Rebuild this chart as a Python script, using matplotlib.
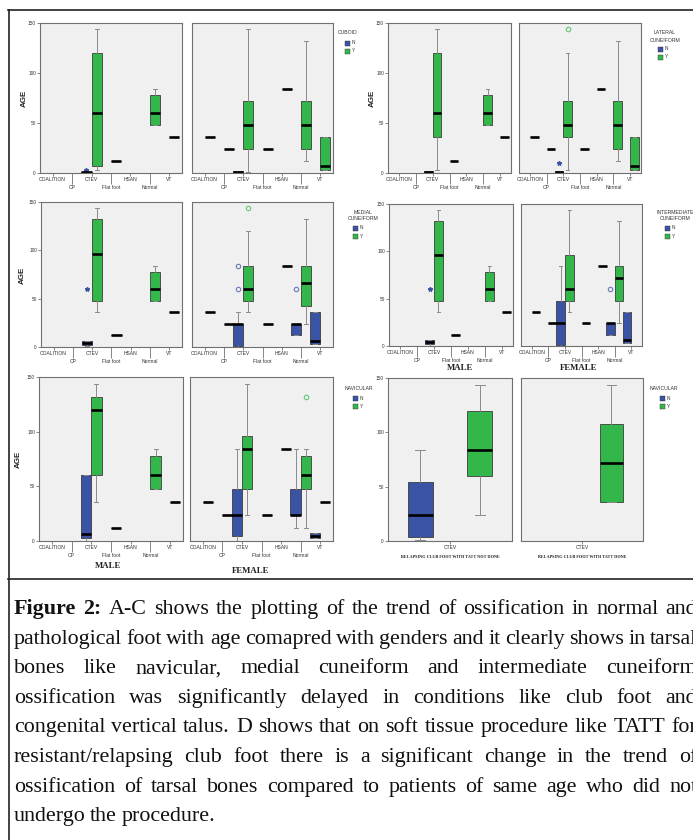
import matplotlib
matplotlib.use("Agg")
import matplotlib.pyplot as plt
from matplotlib.patches import Rectangle
from matplotlib.lines import Line2D

# ---------------- data ----------------
CATEGORIES = ["COALITION", "CP", "CTEV", "Flat foot", "HSAN", "Normal", "VT"]
TATT_CATEGORIES = ["CTEV"]
Y_TICKS = [0, 50, 100, 150]

# (category, group, whisker low, q1, median, q3, whisker high)
CUBOID_MALE = [
    ("CTEV", "N", 0, 0, 1, 1.5, 1.5),
    ("CTEV", "Y", 3, 7, 60, 120, 144),
    ("Flat foot", "Y", 12, 12, 12, 12, 12),
    ("Normal", "Y", 48, 48, 60, 78, 84),
    ("VT", "Y", 36, 36, 36, 36, 36),
]
CUBOID_MALE_OUT = [("CTEV", "N", 3.5, "*")]

CUBOID_FEMALE = [
    ("COALITION", "Y", 36, 36, 36, 36, 36),
    ("CP", "Y", 24, 24, 24, 24, 24),
    ("CTEV", "N", 0, 0, 1, 2.5, 2.5),
    ("CTEV", "Y", 1, 24, 48, 72, 144),
    ("Flat foot", "Y", 24, 24, 24, 24, 24),
    ("HSAN", "Y", 84, 84, 84, 84, 84),
    ("Normal", "Y", 12, 24, 48, 72, 132),
    ("VT", "Y", 3, 3, 7, 36, 36),
]
CUBOID_FEMALE_OUT = []

LATERAL_MALE = [
    ("CTEV", "N", 0, 0, 1, 2, 2),
    ("CTEV", "Y", 3, 36, 60, 120, 144),
    ("Flat foot", "Y", 12, 12, 12, 12, 12),
    ("Normal", "Y", 48, 48, 60, 78, 84),
    ("VT", "Y", 36, 36, 36, 36, 36),
]
LATERAL_MALE_OUT = []

LATERAL_FEMALE = [
    ("COALITION", "Y", 36, 36, 36, 36, 36),
    ("CP", "Y", 24, 24, 24, 24, 24),
    ("CTEV", "N", 0, 0, 1, 2, 2),
    ("CTEV", "Y", 3, 36, 48, 72, 120),
    ("Flat foot", "Y", 24, 24, 24, 24, 24),
    ("HSAN", "Y", 84, 84, 84, 84, 84),
    ("Normal", "Y", 12, 24, 48, 72, 132),
    ("VT", "Y", 3, 3, 7, 36, 36),
]
LATERAL_FEMALE_OUT = [("CTEV", "N", 10, "*"), ("CTEV", "Y", 144, "o")]

MEDIAL_MALE = [
    ("CTEV", "N", 1, 2, 4, 6, 6),
    ("CTEV", "Y", 36, 48, 96, 132, 144),
    ("Flat foot", "Y", 12, 12, 12, 12, 12),
    ("Normal", "Y", 48, 48, 60, 78, 84),
    ("VT", "Y", 36, 36, 36, 36, 36),
]
MEDIAL_MALE_OUT = [("CTEV", "N", 60, "*")]

MEDIAL_FEMALE = [
    ("COALITION", "Y", 36, 36, 36, 36, 36),
    ("CP", "Y", 24, 24, 24, 24, 24),
    ("CTEV", "N", 0, 1, 24, 24, 36),
    ("CTEV", "Y", 36, 48, 60, 84, 120),
    ("Flat foot", "Y", 24, 24, 24, 24, 24),
    ("HSAN", "Y", 84, 84, 84, 84, 84),
    ("Normal", "N", 12, 12, 24, 24, 24),
    ("Normal", "Y", 24, 42, 66, 84, 132),
    ("VT", "N", 3, 3, 6, 36, 36),
]
MEDIAL_FEMALE_OUT = [("CTEV", "N", 60, "o"), ("CTEV", "N", 84, "o"),
                     ("CTEV", "Y", 144, "o"), ("Normal", "N", 60, "o")]

INTERMEDIATE_MALE = [
    ("CTEV", "N", 0, 2, 4, 6, 6),
    ("CTEV", "Y", 36, 48, 96, 132, 144),
    ("Flat foot", "Y", 12, 12, 12, 12, 12),
    ("Normal", "Y", 48, 48, 60, 78, 84),
    ("VT", "Y", 36, 36, 36, 36, 36),
]
INTERMEDIATE_MALE_OUT = [("CTEV", "N", 60, "*")]

INTERMEDIATE_FEMALE = [
    ("COALITION", "Y", 36, 36, 36, 36, 36),
    ("CP", "Y", 24, 24, 24, 24, 24),
    ("CTEV", "N", 0, 1, 24, 48, 84),
    ("CTEV", "Y", 36, 48, 60, 96, 144),
    ("Flat foot", "Y", 24, 24, 24, 24, 24),
    ("HSAN", "Y", 84, 84, 84, 84, 84),
    ("Normal", "N", 12, 12, 24, 24, 24),
    ("Normal", "Y", 24, 48, 72, 84, 132),
    ("VT", "N", 3, 3, 6, 36, 36),
]
INTERMEDIATE_FEMALE_OUT = [("Normal", "N", 60, "o")]

NAVICULAR_MALE = [
    ("CTEV", "N", 0, 3, 6, 60, 60),
    ("CTEV", "Y", 36, 60, 120, 132, 144),
    ("Flat foot", "Y", 12, 12, 12, 12, 12),
    ("Normal", "Y", 48, 48, 60, 78, 84),
    ("VT", "Y", 36, 36, 36, 36, 36),
]
NAVICULAR_MALE_OUT = []

NAVICULAR_FEMALE = [
    ("COALITION", "Y", 36, 36, 36, 36, 36),
    ("CP", "Y", 24, 24, 24, 24, 24),
    ("CTEV", "N", 0, 5, 24, 48, 84),
    ("CTEV", "Y", 24, 48, 84, 96, 144),
    ("Flat foot", "Y", 24, 24, 24, 24, 24),
    ("HSAN", "Y", 84, 84, 84, 84, 84),
    ("Normal", "N", 12, 24, 24, 48, 84),
    ("Normal", "Y", 12, 48, 60, 78, 84),
    ("VT", "N", 3, 3, 5, 7, 7),
    ("VT", "Y", 36, 36, 36, 36, 36),
]
NAVICULAR_FEMALE_OUT = [("Normal", "Y", 132, "o")]

TATT_NOT_DONE = [
    ("CTEV", "N", 1, 4, 24, 54, 84),
    ("CTEV", "Y", 24, 60, 84, 120, 144),
]
TATT_DONE = [
    ("CTEV", "Y", 36, 36, 72, 108, 144),
]

LEGEND_N_Y = ["N", "Y"]
CAPTION_LINES = [
    "Figure 2: A-C shows the plotting of the trend of ossification in normal and",
    "pathological foot with age comapred with genders and it clearly shows in tarsal",
    "bones like navicular, medial cuneiform and intermediate cuneiform",
    "ossification was significantly delayed in conditions like club foot and",
    "congenital vertical talus. D shows that on soft tissue procedure like TATT for",
    "resistant/relapsing club foot there is a significant change in the trend of",
    "ossification of tarsal bones compared to patients of same age who did not",
    "undergo the procedure.",
]

# ---------------- style ----------------
W, H = 693, 840
COLORS = {"N": "#3b53a5", "Y": "#33b64a"}
PANEL_BG = "#f0f0f0"
SANS = ["Liberation Sans", "DejaVu Sans"]
SERIF = ["Liberation Serif", "DejaVu Serif"]

fig = plt.figure(figsize=(W / 100, H / 100), dpi=100)
fig.patch.set_facecolor("white")


def fx(x):
    return x / W


def fy(y):
    return 1 - y / H


def make_axes(rect):
    l, t, r, b = rect
    return fig.add_axes([l / W, 1 - b / H, (r - l) / W, (b - t) / H])


def draw_panel(ax, boxes, outliers, cats, offset, width, show_y):
    ax.set_facecolor(PANEL_BG)
    for s in ax.spines.values():
        s.set_color("#707070")
        s.set_linewidth(0.8)
    idx = {c: i for i, c in enumerate(cats)}
    for grp, sign in (("N", -1), ("Y", 1)):
        sel = [b for b in boxes if b[1] == grp]
        if not sel:
            continue
        stats = [dict(whislo=b[2], q1=b[3], med=b[4], q3=b[5], whishi=b[6], fliers=[])
                 for b in sel]
        pos = [idx[b[0]] + sign * offset for b in sel]
        ax.bxp(stats, positions=pos, widths=width, capwidths=width * 0.4,
               patch_artist=True, showfliers=False, manage_ticks=False,
               boxprops=dict(facecolor=COLORS[grp], edgecolor="#3c3c3c", linewidth=0.6),
               medianprops=dict(color="black", linewidth=1.9, solid_capstyle="butt"),
               whiskerprops=dict(color="#8a8a8a", linewidth=0.7),
               capprops=dict(color="#8a8a8a", linewidth=0.7))
    for cat, grp, val, mk in outliers:
        x = idx[cat] + (-offset if grp == "N" else offset)
        if mk == "o":
            ax.plot([x], [val], marker="o", ms=3.2, mfc="none", mec=COLORS[grp],
                    mew=0.8, ls="none", alpha=0.75)
        else:
            ax.plot([x], [val], marker="*", ms=3.2, color=COLORS[grp], ls="none")
    n = len(cats)
    ax.set_ylim(0, 150)
    if n > 1:
        ax.set_xlim(-0.65, n - 1 + 0.65)
        ax.set_xticks(list(range(0, n, 2)), cats[0::2])
        ax.set_xticks(list(range(1, n, 2)), cats[1::2], minor=True)
        ax.tick_params(axis="x", which="minor", length=8, width=0.5, pad=0.6,
                       labelsize=3.6, color="#555555", labelcolor="#333333")
    else:
        ax.set_xlim(-0.5, 0.5)
        ax.set_xticks([0], cats)
    ax.tick_params(axis="x", which="major", length=2, width=0.5, pad=1.2,
                   labelsize=3.6, color="#555555", labelcolor="#333333")
    for lab in ax.get_xticklabels(which="both"):
        lab.set_fontfamily(SANS)
    if show_y:
        ax.set_yticks(Y_TICKS, [str(v) for v in Y_TICKS])
        ax.tick_params(axis="y", length=2, width=0.5, pad=1, labelsize=3.4,
                       color="#555555", labelcolor="#333333")
        for lab in ax.get_yticklabels():
            lab.set_fontfamily(SANS)
    else:
        ax.set_yticks([])


def legend(title_lines, cx, ty, px, py):
    for i, t in enumerate(title_lines):
        fig.text(fx(cx), fy(ty + 7 * i), t, ha="center", va="center",
                 fontsize=3.7, color="#333333", family=SANS)
    for j, g in enumerate(LEGEND_N_Y):
        y = py + 8 * j
        fig.add_artist(Rectangle((fx(px), fy(y + 2.5)), 5 / W, 5 / H,
                                 transform=fig.transFigure, facecolor=COLORS[g],
                                 edgecolor="#333333", linewidth=0.3))
        fig.text(fx(px + 6.5), fy(y), g, ha="left", va="center", fontsize=3.4,
                 color="#333333", family=SANS)


# ---------------- layout ----------------
PANELS = [
    (CUBOID_MALE, CUBOID_MALE_OUT, (40, 23, 182, 173), True),
    (CUBOID_FEMALE, CUBOID_FEMALE_OUT, (192, 23, 333, 173), False),
    (LATERAL_MALE, LATERAL_MALE_OUT, (388, 23, 511, 173), True),
    (LATERAL_FEMALE, LATERAL_FEMALE_OUT, (519, 23, 641, 173), False),
    (MEDIAL_MALE, MEDIAL_MALE_OUT, (41, 202, 182, 347), True),
    (MEDIAL_FEMALE, MEDIAL_FEMALE_OUT, (192, 202, 333, 347), False),
    (INTERMEDIATE_MALE, INTERMEDIATE_MALE_OUT, (389, 204, 513, 346), True),
    (INTERMEDIATE_FEMALE, INTERMEDIATE_FEMALE_OUT, (521, 204, 642, 346), False),
    (NAVICULAR_MALE, NAVICULAR_MALE_OUT, (39, 377, 183, 541), True),
    (NAVICULAR_FEMALE, NAVICULAR_FEMALE_OUT, (190, 377, 333, 541), False),
]
for boxes, outs, rect, show_y in PANELS:
    ax = make_axes(rect)
    draw_panel(ax, boxes, outs, CATEGORIES, 0.26, 0.52, show_y)

ax = make_axes((388, 378, 512, 541))
draw_panel(ax, TATT_NOT_DONE, [], TATT_CATEGORIES, 0.24, 0.2, True)
ax = make_axes((521, 378, 643, 541))
draw_panel(ax, TATT_DONE, [], TATT_CATEGORIES, 0.24, 0.19, False)

fig.text(fx(450), fy(557), "RELAPSING CLUB FOOT WITH TATT NOT DONE", ha="center",
         va="center", fontsize=3.1, fontweight="bold", family=SERIF, color="#222222")
fig.text(fx(582), fy(557), "RELAPSING CLUB FOOT WITH TATT DONE", ha="center",
         va="center", fontsize=3.1, fontweight="bold", family=SERIF, color="#222222")

# AGE labels
for x, yc in ((24, 98), (372, 98), (22, 275), (18, 459)):
    fig.text(fx(x), fy(yc), "AGE", rotation=90, ha="center", va="center",
             fontsize=5.8, fontweight="bold", family=SANS, color="#222222")

# legends
legend(["CUBOID"], 348, 33, 345, 43)
legend(["LATERAL", "CUNEIFORM"], 665, 33, 658, 49)
legend(["MEDIAL", "CUNEIFORM"], 363, 212, 353, 228)
legend(["INTERMEDIATE", "CUNEIFORM"], 675, 212, 665, 228)
legend(["NAVICULAR"], 359, 388, 353, 398)
legend(["NAVICULAR"], 664, 388, 660, 398)

# gender labels
for x, y, t in ((460, 368, "MALE"), (579, 368, "FEMALE"),
                (108, 566, "MALE"), (251, 571, "FEMALE")):
    fig.text(fx(x), fy(y), t, ha="center", va="center", fontsize=6.3,
             fontweight="bold", family=SERIF, color="#222222")

# frame lines
fig.add_artist(Line2D([fx(8), fx(693)], [fy(10), fy(10)], transform=fig.transFigure,
                      color="#222222", linewidth=1.2))
fig.add_artist(Line2D([fx(8.5), fx(8.5)], [fy(10), fy(840)], transform=fig.transFigure,
                      color="#222222", linewidth=1.2))
fig.add_artist(Line2D([fx(8), fx(693)], [fy(579), fy(579)], transform=fig.transFigure,
                      color="#222222", linewidth=1.2))

# caption (justified)
renderer = fig.canvas.get_renderer()
X0, X1 = 14, 697
BASE0, DY = 614, 29.6
for i, line in enumerate(CAPTION_LINES):
    words = line.split(" ")
    texts = []
    for k, w in enumerate(words):
        bold = (i == 0 and k < 2)
        t = fig.text(0, 0, w, fontsize=15.8, family=SERIF, color="#111111",
                     fontweight="bold" if bold else "normal", va="baseline", ha="left")
        texts.append(t)
    widths = [t.get_window_extent(renderer).width for t in texts]
    space = 4.5
    if i < len(CAPTION_LINES) - 1 and len(words) > 1:
        gap = max((X1 - X0 - sum(widths)) / (len(words) - 1), 1.5)
    else:
        gap = space
    x = X0
    y = BASE0 + DY * i
    for t, wdt in zip(texts, widths):
        t.set_position((fx(x), fy(y)))
        x += wdt + gap

fig.savefig("out.png", dpi=100, facecolor="white")
